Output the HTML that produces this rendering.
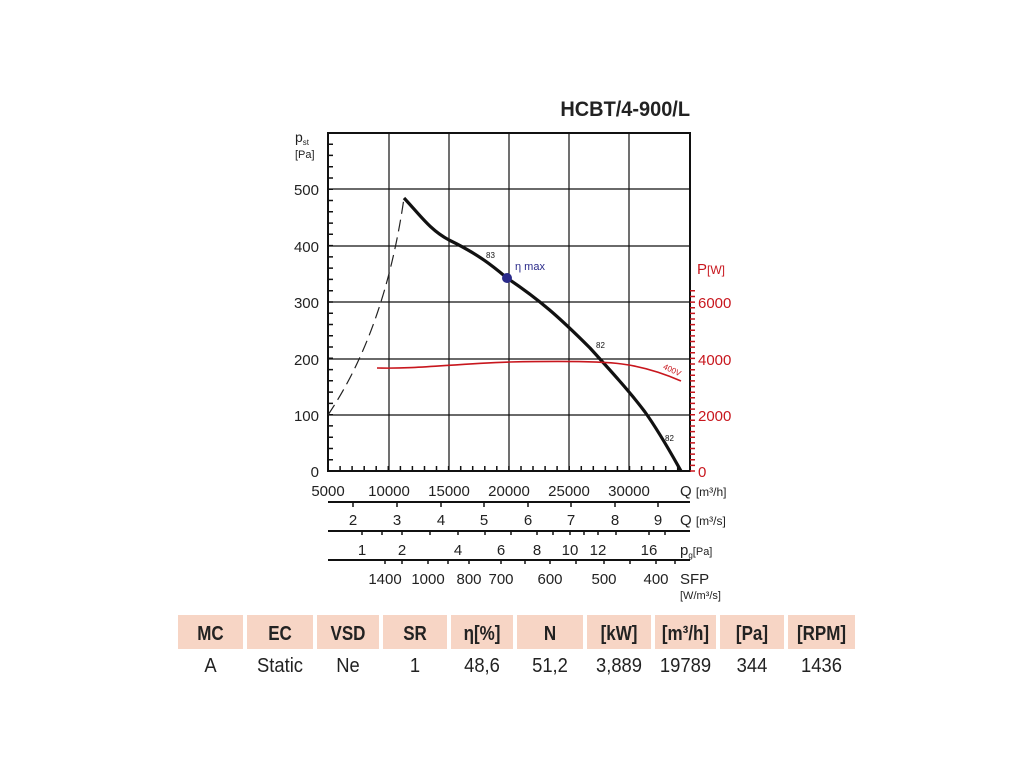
<!DOCTYPE html>
<html><head><meta charset="utf-8"><style>
body{margin:0;background:#fff;width:1024px;height:768px;overflow:hidden;font-family:"Liberation Sans",sans-serif}
svg{position:absolute;left:0;top:0}
</style></head><body>
<svg id="s" width="1024" height="768" viewBox="0 0 1024 768" font-family="Liberation Sans, sans-serif">
<text x="690" y="116" text-anchor="end" font-size="21" font-weight="bold" fill="#222" transform="translate(690 0) scale(0.95 1) translate(-690 0)">HCBT/4-900/L</text>
<g stroke="#111" stroke-width="1.2" fill="none">
<rect x="328" y="133" width="362" height="338" stroke-width="2"/>
<path d="M389 133V471M449 133V471M509 133V471M569 133V471M629 133V471M328 415H690M328 359H690M328 302H690M328 246H690M328 189H690"/>
</g>
<g id="ticks"></g>
<text x="295" y="142" font-size="14" fill="#222">p<tspan font-size="8" dy="3">st</tspan></text>
<text x="295" y="158" font-size="11" fill="#222">[Pa]</text>
<g font-size="15" fill="#222" text-anchor="end">
<text x="319" y="195">500</text><text x="319" y="252">400</text><text x="319" y="308">300</text><text x="319" y="365">200</text><text x="319" y="421">100</text><text x="319" y="477">0</text>
</g>
<g font-size="15" fill="#c8161d">
<text x="697" y="274">P<tspan font-size="12">[W]</tspan></text>
<text x="698" y="308">6000</text><text x="698" y="365">4000</text><text x="698" y="421">2000</text><text x="698" y="477">0</text>
</g>
<path d="M328 415 Q385 330 404 198" stroke="#222" stroke-width="1.2" fill="none" stroke-dasharray="12,6"/>
<path d="M404 198 C420 215 430 230 449 240 C480 255 495 268 507 278 C540 300 560 318 590 348 C610 370 630 392 645 412 C660 433 672 455 681 471" stroke="#111" stroke-width="3.2" fill="none"/>
<path d="M377 368 C420 369 450 364 510 362 C560 361 600 361 622 364 C645 367 665 374 681 381" stroke="#c8161d" stroke-width="1.6" fill="none"/>
<text x="662" y="371" font-size="8" fill="#c8161d" transform="rotate(25 668 371)">400V</text>
<circle cx="507" cy="278" r="5" fill="#2a2a8a"/>
<text x="515" y="270" font-size="11" fill="#2a2a8a">η max</text>
<text x="486" y="258" font-size="8" fill="#111">83</text>
<text x="596" y="348" font-size="8" fill="#111">82</text>
<text x="665" y="441" font-size="8" fill="#111">82</text>
<g font-size="15" fill="#222" text-anchor="middle">
<text x="328" y="496">5000</text><text x="389" y="496">10000</text><text x="449" y="496">15000</text><text x="509" y="496">20000</text><text x="569" y="496">25000</text><text x="629" y="496">30000</text>
<text x="353" y="525">2</text><text x="397" y="525">3</text><text x="441" y="525">4</text><text x="484" y="525">5</text><text x="528" y="525">6</text><text x="571" y="525">7</text><text x="615" y="525">8</text><text x="658" y="525">9</text>
<text x="362" y="555">1</text><text x="402" y="555">2</text><text x="458" y="555">4</text><text x="501" y="555">6</text><text x="537" y="555">8</text><text x="570" y="555">10</text><text x="598" y="555">12</text><text x="649" y="555">16</text>
<text x="385" y="584">1400</text><text x="428" y="584">1000</text><text x="469" y="584">800</text><text x="501" y="584">700</text><text x="550" y="584">600</text><text x="604" y="584">500</text><text x="656" y="584">400</text>
</g>
<g font-size="15" fill="#222">
<text x="680" y="496">Q <tspan font-size="12">[m³/h]</tspan></text>
<text x="680" y="525">Q <tspan font-size="12">[m³/s]</tspan></text>
<text x="680" y="555">p<tspan font-size="8" dy="3">g</tspan><tspan font-size="11" dy="-3">[Pa]</tspan></text>
<text x="680" y="584">SFP</text>
<text x="680" y="599" font-size="11">[W/m³/s]</text>
</g>
<g stroke="#111" stroke-width="2"><path d="M328 502H690M328 531H690M328 560H690"/></g>
<g font-size="20" text-anchor="middle" fill="#222" id="tbl"></g>
</svg>
<script>
var t=document.getElementById('ticks'),d='',r='';
for(var y=471;y>=133;y-=11.27)d+='M328 '+y.toFixed(1)+'h5';
for(var x=328;x<=690;x+=12.06)d+='M'+x.toFixed(1)+' 471v-5';
for(var y=471;y>=290;y-=5.63)r+='M690 '+y.toFixed(1)+'h5';
[353,397,441,484,528,571,615,658].forEach(function(x){d+='M'+x+' 502v5';});
[362,382,402,430,458,485,511,537,553,570,584,598,616,649,665].forEach(function(x){d+='M'+x+' 531v4';});
[385,402,428,448,469,501,525,550,576,604,630,656,675].forEach(function(x){d+='M'+x+' 560v4';});
t.innerHTML='<path d="'+d+'" stroke="#111" stroke-width="1.5" fill="none"/><path d="'+r+'" stroke="#c8161d" stroke-width="1.5" fill="none"/>';
var cells=[[178,243,'MC','A'],[247,313,'EC','Static'],[317,379,'VSD','Ne'],[383,447,'SR','1'],[451,513,'η[%]','48,6'],[517,583,'N','51,2'],[587,651,'[kW]','3,889'],[655,716,'[m³/h]','19789'],[720,784,'[Pa]','344'],[788,855,'[RPM]','1436']];
var h='';
cells.forEach(function(c){var m=(c[0]+c[1])/2;
h+='<rect x="'+c[0]+'" y="615" width="'+(c[1]-c[0])+'" height="34" fill="#f7d5c5"/>';
h+='<text x="'+m+'" y="640" font-weight="bold" font-size="20" transform="translate('+m+' 0) scale(0.85 1) translate('+(-m)+' 0)">'+c[2]+'</text>';
h+='<text x="'+m+'" y="672" transform="translate('+m+' 0) scale(0.92 1) translate('+(-m)+' 0)">'+c[3]+'</text>';});
document.getElementById('tbl').innerHTML=h;
</script>
</body></html>
